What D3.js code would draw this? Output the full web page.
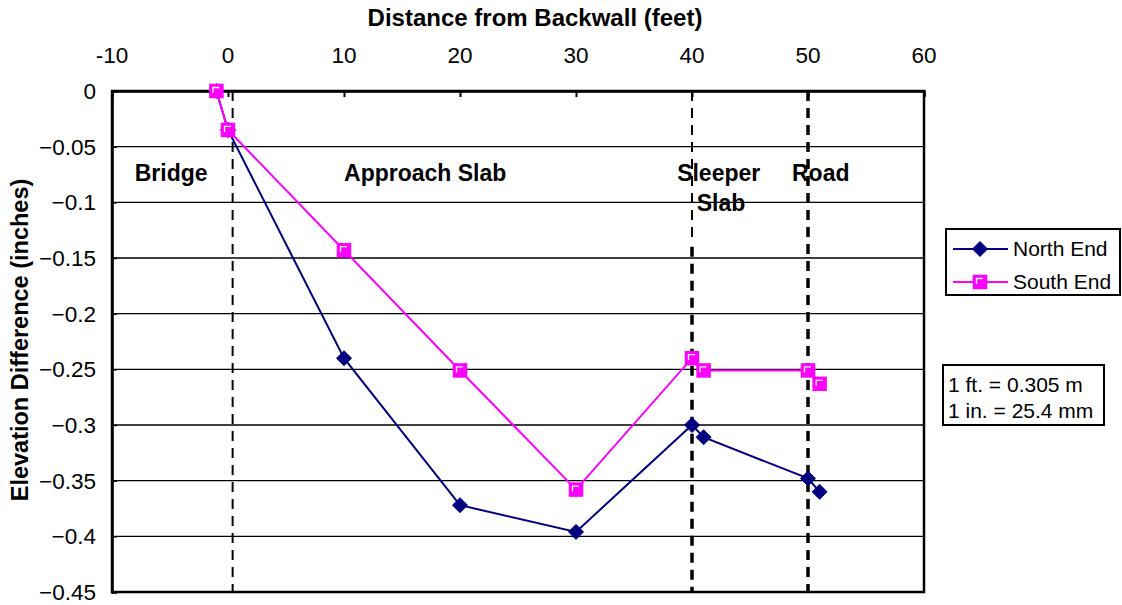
<!DOCTYPE html>
<html>
<head>
<meta charset="utf-8">
<script src="https://cdn.jsdelivr.net/npm/d3@7"></script>
<style>
  body { margin: 0; background: #fff; }
  text { font-family: "Liberation Sans", Arial, sans-serif; fill: #000; }
</style>
</head>
<body>
<div id="chart"></div>
<script>
// distances (ft) and elevation differences (in)
var northX = [-1, 0, 10, 20, 30, 40, 41, 50, 51];
var northY = [0, -0.035, -0.24, -0.372, -0.396, -0.3, -0.311, -0.348, -0.36];
var southX = [-1, 0, 10, 20, 30, 40, 41, 50, 51];
var southY = [0, -0.035, -0.143, -0.251, -0.358, -0.24, -0.251, -0.251, -0.263];
var xTicks = [-10, 0, 10, 20, 30, 40, 50, 60];
var yTicks = [0, -0.05, -0.1, -0.15, -0.2, -0.25, -0.3, -0.35, -0.4, -0.45];
var seriesNames = ["North End", "South End"];
var regionNames = ["Bridge", "Approach Slab", "Sleeper", "Slab", "Road"];
var unitLines = ["1 ft. = 0.305 m", "1 in. = 25.4 mm"];

var svg = d3.select("#chart").append("svg")
    .attr("width", 1122)
    .attr("height", 605);

var x = d3.scaleLinear().domain([-10, 60]).range([112, 924]);
var y = d3.scaleLinear().domain([-0.45, 0]).range([592, 91]);

var north = northX.map(function(d, i) { return [d, northY[i]]; });
var south = southX.map(function(d, i) { return [d, southY[i]]; });

// gridlines
svg.append("g").selectAll("line")
    .data(yTicks.slice(1, -1))
    .enter().append("line")
    .attr("x1", x(-10)).attr("x2", x(60))
    .attr("y1", function(d) { return y(d); })
    .attr("y2", function(d) { return y(d); })
    .attr("stroke", "#000").attr("stroke-width", 1.3);

// plot border
svg.append("rect")
    .attr("x", x(-10)).attr("y", y(0))
    .attr("width", x(60) - x(-10)).attr("height", y(-0.45) - y(0))
    .attr("fill", "none").attr("stroke", "#000").attr("stroke-width", 2.5);

// x axis on top (crosses at 0)
var xAxis = svg.append("g")
    .attr("transform", "translate(0," + y(0) + ")")
    .call(d3.axisBottom(x).tickValues(xTicks).tickSize(6).tickFormat(""));
xAxis.select(".domain").attr("stroke-width", 2.5);
xAxis.selectAll(".tick line").attr("stroke-width", 2);
svg.append("g").selectAll("text")
    .data(xTicks)
    .enter().append("text")
    .attr("x", function(d) { return x(d); })
    .attr("y", 63)
    .attr("text-anchor", "middle")
    .style("font-size", "22.5px")
    .text(function(d) { return d; });

// y axis
var yAxis = svg.append("g")
    .attr("transform", "translate(" + x(-10) + ",0)")
    .call(d3.axisRight(y).tickValues(yTicks).tickSize(5).tickFormat(""));
yAxis.select(".domain").attr("stroke-width", 2.5);
yAxis.selectAll(".tick line").attr("stroke-width", 1.5);
svg.append("g").selectAll("text")
    .data(yTicks)
    .enter().append("text")
    .attr("x", 96)
    .attr("y", function(d) { return y(d) + 8; })
    .attr("text-anchor", "end")
    .style("font-size", "22.5px")
    .text(function(d) { return d === 0 ? "0" : d3.format("")(+d.toFixed(2)); });

// axis titles
svg.append("text")
    .attr("x", 535).attr("y", 26)
    .attr("text-anchor", "middle")
    .style("font-size", "24px").style("font-weight", "bold")
    .text("Distance from Backwall (feet)");
svg.append("text")
    .attr("transform", "translate(28,340) rotate(-90)")
    .attr("text-anchor", "middle")
    .style("font-size", "23.5px").style("font-weight", "bold")
    .text("Elevation Difference (inches)");

// region boundaries
var bounds = [
  { x: 0.4, top: 0, bottom: -0.45, w: 2 },
  { x: 40, top: 0, bottom: -0.135, w: 2 },
  { x: 40, top: -0.14, bottom: -0.45, w: 3.5 },
  { x: 50, top: 0, bottom: -0.45, w: 3.5 }
];
svg.append("g").selectAll("line")
    .data(bounds)
    .enter().append("line")
    .attr("x1", function(d) { return x(d.x); })
    .attr("x2", function(d) { return x(d.x); })
    .attr("y1", function(d) { return y(d.top); })
    .attr("y2", function(d) { return y(d.bottom); })
    .attr("stroke", "#000")
    .attr("stroke-width", function(d) { return d.w; })
    .attr("stroke-dasharray", "10,7");

// region labels
var regionPos = [[-4.9, -0.081], [17, -0.081], [42.3, -0.081], [42.5, -0.108], [51.1, -0.081]];
svg.append("g").selectAll("text")
    .data(regionNames)
    .enter().append("text")
    .attr("x", function(d, i) { return x(regionPos[i][0]); })
    .attr("y", function(d, i) { return y(regionPos[i][1]); })
    .attr("text-anchor", "middle")
    .style("font-size", "23px").style("font-weight", "bold")
    .text(function(d) { return d; });

// lines
var line = d3.line()
    .x(function(d) { return x(d[0]); })
    .y(function(d) { return y(d[1]); });

svg.append("path").datum(north)
    .attr("d", line).attr("fill", "none")
    .attr("stroke", "#000080").attr("stroke-width", 2);
svg.append("path").datum(south)
    .attr("d", line).attr("fill", "none")
    .attr("stroke", "#ff00ff").attr("stroke-width", 2);

function diamond(g) {
  g.append("path")
    .attr("d", "M0,-7.5L7.5,0L0,7.5L-7.5,0Z")
    .attr("fill", "#000080").attr("stroke", "#000080").attr("stroke-width", 1);
}
function square(g) {
  g.append("rect")
    .attr("x", -6.5).attr("y", -6.5).attr("width", 13).attr("height", 13)
    .attr("fill", "#ff00ff").attr("stroke", "#ff00ff").attr("stroke-width", 1.5);
  g.append("path")
    .attr("d", "M-3.5,2V-3.5H3")
    .attr("fill", "none").attr("stroke", "#fff").attr("stroke-width", 1.3);
}

svg.append("g").selectAll("g")
    .data(north)
    .enter().append("g")
    .attr("transform", function(d) { return "translate(" + x(d[0]) + "," + y(d[1]) + ")"; })
    .each(function() { diamond(d3.select(this)); });
svg.append("g").selectAll("g")
    .data(south)
    .enter().append("g")
    .attr("transform", function(d) { return "translate(" + x(d[0]) + "," + y(d[1]) + ")"; })
    .each(function() { square(d3.select(this)); });

// legend
var legend = svg.append("g").attr("transform", "translate(946,229)");
legend.append("rect")
    .attr("width", 174).attr("height", 66)
    .attr("fill", "#fff").attr("stroke", "#000").attr("stroke-width", 2);
var item = legend.selectAll(".item")
    .data(seriesNames)
    .enter().append("g")
    .attr("class", "item")
    .attr("transform", function(d, i) { return "translate(0," + (20 + i * 33) + ")"; });
item.append("line")
    .attr("x1", 7).attr("x2", 62)
    .attr("stroke", function(d, i) { return i ? "#ff00ff" : "#000080"; })
    .attr("stroke-width", 2);
item.each(function(d, i) {
  var m = d3.select(this).append("g").attr("transform", "translate(34,0)");
  if (i) square(m); else diamond(m);
});
item.append("text")
    .attr("x", 67).attr("y", 7)
    .style("font-size", "21px")
    .text(function(d) { return d; });

// units note
var note = svg.append("g").attr("transform", "translate(943,365)");
note.append("rect")
    .attr("width", 161).attr("height", 60)
    .attr("fill", "#fff").attr("stroke", "#000").attr("stroke-width", 2);
note.selectAll("text")
    .data(unitLines)
    .enter().append("text")
    .attr("x", 5)
    .attr("y", function(d, i) { return 27 + i * 26; })
    .style("font-size", "21px")
    .text(function(d) { return d; });
</script>
</body>
</html>
